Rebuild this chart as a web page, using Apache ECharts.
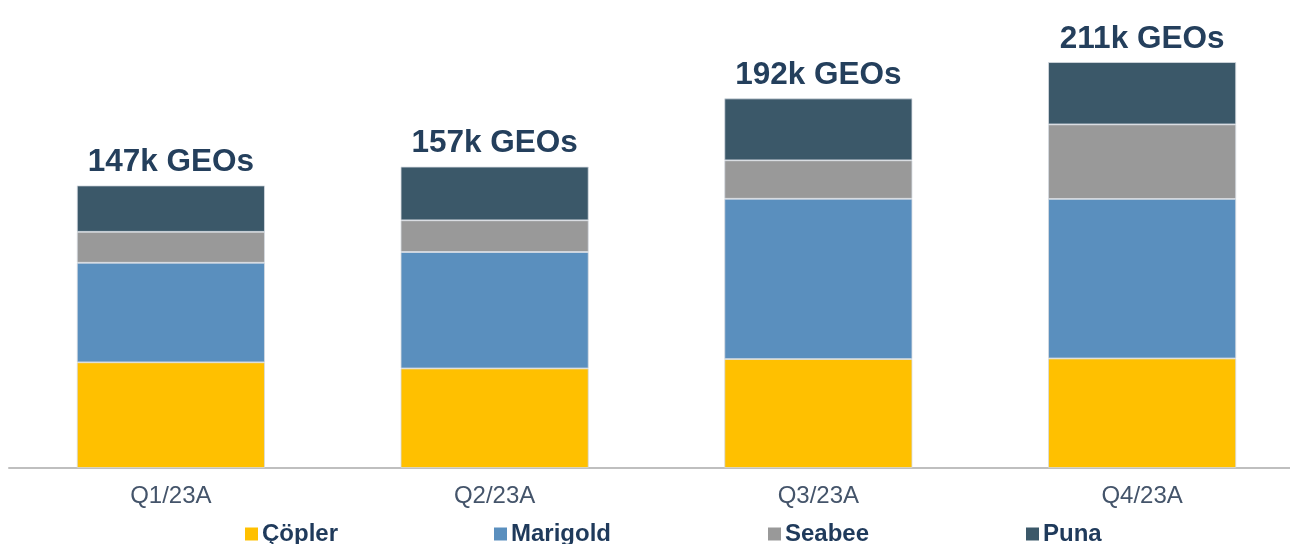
<!DOCTYPE html>
<html>
<head>
<meta charset="utf-8">
<script src="https://cdn.jsdelivr.net/npm/echarts@6/dist/echarts.min.js"></script>
<style>
html,body{margin:0;padding:0;background:#fff;}
#main{width:1290px;height:544px;}
</style>
</head>
<body>
<div id="main"></div>
<script>
var categories = ['Q1/23A', 'Q2/23A', 'Q3/23A', 'Q4/23A'];
var copler = [55.0, 51.8, 56.7, 57.0];
var marigold = [51.8, 60.6, 83.4, 83.0];
var seabee = [16.1, 16.5, 20.0, 38.8];
var puna = [24.1, 27.9, 32.2, 32.4];
var totals = [147, 157, 192, 211];
var seriesNames = ['Çöpler', 'Marigold', 'Seabee', 'Puna'];
var colors = ['#FFC000', '#5A8FBE', '#999999', '#3B5869'];

var chart = echarts.init(document.getElementById('main'));
var font = '"Liberation Sans", Arial, Helvetica, sans-serif';
var values = [copler, marigold, seabee, puna];
var series = seriesNames.map(function (n, i) {
  var s = {
    name: n,
    type: 'bar',
    stack: 'total',
    barWidth: 188,
    data: values[i],
    itemStyle: { color: colors[i], borderColor: '#d5dbe1', borderWidth: 0.8 },
    emphasis: { disabled: true }
  };
  if (i === 3) {
    s.label = {
      show: true,
      position: 'top',
      distance: 7,
      formatter: function (p) { return totals[p.dataIndex] + 'k GEOs'; },
      color: '#243F5C',
      fontFamily: font,
      fontWeight: 'bold',
      fontSize: 31.5
    };
  }
  return s;
});
var legendLefts = [245, 494, 768, 1026];
var legends = seriesNames.map(function (n, i) {
  return {
    data: [n],
    left: legendLefts[i],
    top: 522,
    itemWidth: 13,
    itemHeight: 13,
    icon: 'rect',
    itemGap: 5,
    padding: 0,
    selectedMode: false,
    itemStyle: { borderWidth: 0 },
    textStyle: { color: '#1F3A5B', fontWeight: 'bold', fontSize: 24, fontFamily: font, padding: [0,0,0,-1] }
  };
});
chart.setOption({
  animation: false,
  backgroundColor: '#fff',
  grid: { left: 9, width: 1295, top: 26, bottom: 76, containLabel: false, outerBoundsMode: 'none' },
  legend: legends,
  xAxis: {
    type: 'category',
    data: categories,
    axisLine: { lineStyle: { color: '#BFBFBF', width: 2 } },
    axisTick: { show: false },
    axisLabel: { color: '#44546A', fontSize: 24, fontFamily: font, margin: 16 }
  },
  yAxis: {
    type: 'value', min: 0, max: 230, show: false,
    splitLine: { show: false }
  },
  series: series
});
</script>
</body>
</html>
